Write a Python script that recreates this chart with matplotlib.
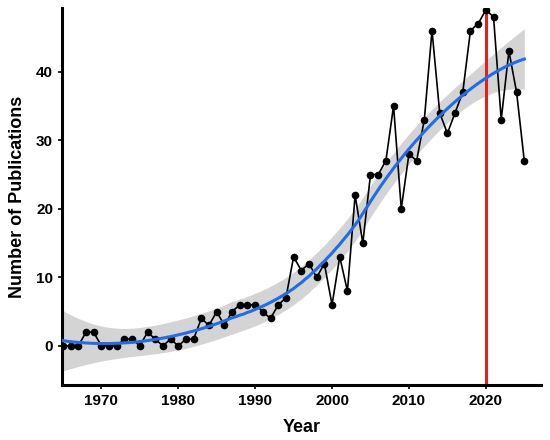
import numpy as np
import matplotlib
matplotlib.use("Agg")
import matplotlib.pyplot as plt

plt.rcParams['font.family'] = ['Liberation Sans', 'DejaVu Sans']

years = list(range(1965, 2026))
counts = [0, 0, 0, 2, 2, 0, 0, 0, 1, 1,
          0, 2, 1, 0, 1, 0, 1, 1, 4, 3,
          5, 3, 5, 6, 6, 6, 5, 4, 6, 7,
          13, 11, 12, 10, 12, 6, 13, 8, 22, 15,
          25, 25, 27, 35, 20, 28, 27, 33, 46, 34,
          31, 34, 37, 46, 47, 49, 48, 33, 43, 37,
          27]
highlight_year = 2020


def loess_rows(x, xs, span=0.75):
    # local quadratic fit with tricube weights, returns the smoother matrix
    n = len(x)
    q = int(np.floor(n * span))
    rows = []
    for x0 in xs:
        d = np.abs(x - x0)
        h = np.sort(d)[q - 1]
        w = np.clip(1 - (d / h) ** 3, 0, None) ** 3
        X = np.column_stack([np.ones(n), x - x0, (x - x0) ** 2])
        XtW = X.T * w
        rows.append(np.linalg.solve(XtW @ X, XtW)[0])
    return np.array(rows)


x = np.array(years, dtype=float)
y = np.array(counts, dtype=float)
L = loess_rows(x, x)
resid = y - L @ y
M = np.eye(len(x)) - L
delta1 = np.trace(M.T @ M)
sigma = np.sqrt(np.sum(resid ** 2) / delta1)

xs = np.linspace(x.min(), x.max(), 200)
Ls = loess_rows(x, xs)
fit = Ls @ y
se = sigma * np.sqrt(np.sum(Ls ** 2, axis=1))

fig = plt.figure(figsize=(5.5, 4.4), dpi=100)
ax = fig.add_axes([0.113, 0.125, 0.871, 0.857])

ax.fill_between(xs, fit - 2.0 * se, fit + 2.0 * se, color='#d4d4d4', lw=0, zorder=1)
ax.axvline(highlight_year, color='#e3201b', lw=2.2, zorder=2)
ax.plot(years, counts, color='black', lw=1.2, marker='o', ms=4.5, zorder=3)
ax.plot(xs, fit, color='#1f6ee8', lw=2.2, zorder=4)

ax.set_xlim(1964.9, 2027.2)
ax.set_ylim(-5.7, 49.3)
ax.set_xticks([1970, 1980, 1990, 2000, 2010, 2020])
ax.set_yticks([0, 10, 20, 30, 40])

for s in ['top', 'right']:
    ax.spines[s].set_visible(False)
for s in ['left', 'bottom']:
    ax.spines[s].set_linewidth(2.2)
ax.tick_params(width=1.2, length=3, labelsize=11)
for lab in ax.get_xticklabels() + ax.get_yticklabels():
    lab.set_fontweight('bold')

ax.set_xlabel('Year', fontsize=13, fontweight='bold', labelpad=8)
ax.set_ylabel('Number of Publications', fontsize=13, fontweight='bold', labelpad=7)

plt.savefig('out.png')
